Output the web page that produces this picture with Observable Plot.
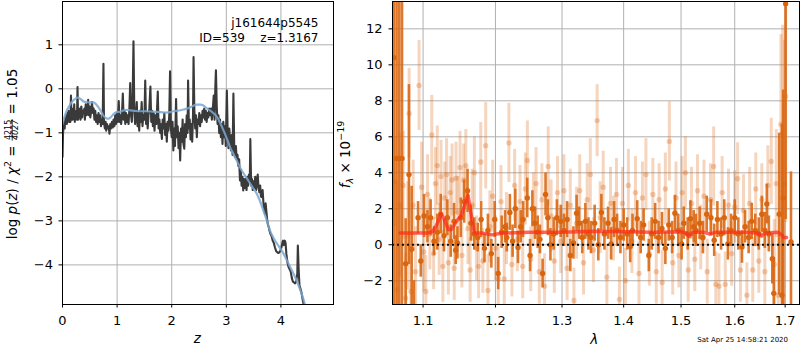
<!DOCTYPE html>
<html><head><meta charset="utf-8">
<script src="https://cdn.jsdelivr.net/npm/d3@7"></script>
<script src="https://cdn.jsdelivr.net/npm/@observablehq/plot@0.6"></script>
<style>
html,body{margin:0;padding:0;background:#fff;}
#wrap{position:relative;width:800px;height:350px;font-family:"DejaVu Sans",sans-serif;}
#wrap svg{position:absolute;top:0;overflow:visible;}
svg text{white-space:pre;}
</style></head><body><div id="wrap"></div>
<script>
// ---------- left panel: log p(z) ----------
const pzZ = [0.00,0.01,0.02,0.03,0.04,0.05,0.06,0.07,0.08,0.09,0.10,0.11,0.12,0.13,0.145,0.155,0.165,0.175,0.185,0.195,0.205,0.215,0.225,0.235,0.245,0.255,0.265,0.275,0.285,0.295,
0.31,0.32,0.33,0.345,0.36,0.37,0.385,0.40,0.41,0.425,0.44,0.455,0.47,0.48,0.495,0.51,0.525,0.54,0.555,0.57,0.585,0.60,0.615,0.63,0.645,0.66,0.675,0.69,0.705,0.72,0.735,0.75,0.76,
0.775,0.79,0.80,0.815,0.83,0.845,0.86,0.875,0.89,0.905,0.92,0.935,0.95,0.965,0.98,0.995,1.01,1.03,1.045,1.06,1.075,1.09,1.105,1.12,1.135,1.15,1.165,1.18,1.195,1.21,1.225,1.24,1.255,1.27,1.285,1.30,1.315,1.33,
1.345,1.36,1.375,1.39,1.405,1.42,1.435,1.45,1.465,1.48,1.50,1.515,1.53,1.545,1.56,1.575,1.59,1.61,1.625,1.64,1.655,1.67,1.685,1.70,1.72,1.745,1.76,1.775,1.79,1.80,1.82,1.835,1.85,1.865,1.88,1.895,1.91,1.925,1.94,1.955,1.97,1.985,
2.00,2.015,2.03,2.045,2.06,2.08,2.095,2.11,2.125,2.14,2.155,2.17,2.185,2.20,2.215,2.23,2.245,2.26,2.275,2.29,2.30,2.315,2.33,2.345,2.36,2.375,2.39,2.40,2.415,2.43,2.445,2.46,2.475,2.49,2.505,2.52,2.535,2.55,2.565,2.58,2.595,
2.61,2.625,2.64,2.655,2.67,2.685,2.70,2.72,2.735,2.75,2.77,2.785,2.80,2.81,2.825,2.84,2.855,2.87,2.885,2.90,2.915,2.93,2.945,2.96,2.975,2.99,3.01,3.025,3.04,3.055,3.07,3.085,3.10,3.115,3.13,3.145,3.16,3.175,3.19,
3.205,3.22,3.235,3.25,3.265,3.28,3.295,3.31,3.325,3.34,3.355,3.37,3.385,3.40,3.415,3.43,3.44,3.455,3.47,3.485,3.50,3.515,3.53,3.545,3.56,3.575,3.59,3.605,3.62,3.635,3.65,3.665,3.68,3.695,3.71,3.72,3.735,3.75,3.765,3.78,3.79,
3.81,3.83,3.85,3.87,3.89,3.91,3.93,3.95,3.97,3.99,4.01,4.03,4.04,4.055,4.07,4.085,4.10,4.12,4.14,4.16,4.18,4.20,4.22,4.24,4.26,4.28,4.30,4.31,4.325,4.34,4.36,4.38,4.40,4.42,4.44];
const pzLog = [-1.55,-1.0,-0.85,-0.75,-0.9,-0.65,-0.75,-0.6,-0.8,-0.55,-0.7,-0.5,-0.75,-0.6,-0.75,-0.15,-0.7,-0.5,-0.7,-0.45,-0.6,-0.35,-0.75,-0.55,-0.65,-0.5,-0.7,0.04,-0.7,-0.5,
-0.65,-0.45,-0.7,-0.4,-0.65,-0.5,-0.55,-0.45,-0.7,-0.35,-0.6,-0.45,-0.25,-0.6,-0.4,-0.65,-0.5,-0.3,-0.55,-0.45,-0.7,-0.5,-0.75,-0.6,-0.8,-0.55,-0.75,-0.6,-0.85,-0.7,-0.8,0.57,-0.75,
-0.9,-0.75,-0.95,-0.8,-0.9,-0.85,-1.02,-0.8,-0.9,-0.75,-0.88,-0.7,-0.85,-0.6,-0.8,-0.55,-0.75,-0.28,-0.75,-0.6,-0.8,-0.55,-0.11,-0.7,-0.5,-0.8,-0.55,-0.75,-0.6,-0.8,-0.45,0.13,-0.6,-0.75,-0.2,1.08,-0.5,-0.8,
-0.6,-0.3,-0.85,-0.55,-0.95,-0.5,-0.75,-0.3,-0.85,-0.6,-0.7,0.19,-0.8,-0.55,-0.9,-0.6,-0.45,0.05,-0.75,-0.5,-0.85,-0.55,-0.95,-0.6,-0.8,-0.06,-0.9,-0.7,-1.0,-0.8,-1.14,-0.7,-0.9,-0.55,-1.05,-0.8,-1.2,-0.75,-0.95,-0.6,0.40,-0.9,
-1.1,-0.75,-1.40,-0.9,-1.3,-0.23,-1.1,-0.85,-1.35,-1.0,-1.63,-0.9,-1.2,-0.7,-1.25,-1.36,-0.8,-1.1,-0.6,-1.0,0.19,-0.9,-0.7,-1.15,-0.8,-1.2,-0.6,0.72,-0.5,-0.9,-0.6,-1.1,-0.7,-0.8,-0.55,-0.85,-0.6,-0.75,-0.5,-0.65,-0.45,
-0.7,-0.5,-0.75,-0.55,-0.65,-0.45,-0.6,-0.45,-0.7,-0.5,-0.15,-0.7,0.10,0.42,-0.4,-0.8,-0.6,-1.0,-0.7,-1.1,-0.8,-1.25,-0.75,-1.1,-0.85,-1.3,-0.04,-1.0,-1.35,-0.9,-1.2,-1.4,-1.05,-1.5,-0.11,-1.3,-1.55,-1.3,-1.6,
-1.5,-1.75,-1.6,-2.08,-1.85,-2.2,-2.0,-2.31,-2.05,-2.25,-2.05,-2.3,-2.0,-2.2,-1.95,-2.1,-1.14,-2.2,-2.05,-2.3,-2.1,-2.25,-2.0,-2.3,-2.1,-1.95,-2.25,-2.35,-2.2,-2.45,-2.46,-2.3,-2.6,-2.75,-2.84,-2.6,-2.8,-3.0,-3.1,-3.15,-3.22,
-3.3,-3.35,-3.45,-3.5,-3.6,-3.68,-3.71,-3.73,-3.72,-3.68,-3.6,-3.48,-3.45,-3.55,-3.45,-3.5,-3.75,-3.95,-4.05,-4.1,-4.15,-4.3,-4.38,-4.4,-4.42,-4.38,-4.2,-3.56,-4.1,-4.47,-4.55,-4.65,-4.8,-4.92,-5.1];
const smoothZ = [0,0.04,0.08,0.12,0.17,0.22,0.275,0.33,0.39,0.45,0.51,0.57,0.62,0.66,0.70,0.75,0.80,0.84,0.88,0.93,0.99,1.06,1.12,1.18,1.25,1.32,1.40,1.48,1.55,1.65,1.79,1.90,1.97,2.03,2.09,2.18,2.28,2.37,2.46,2.52,2.58,2.64,2.70,2.77,2.83,2.89,2.95,3.01,3.07,3.13,3.19,3.25,3.32,3.38,3.44,3.50,3.56,3.62,3.68,3.74,3.80,3.87,3.93,3.99,4.05,4.11,4.17,4.23,4.29,4.34,4.38,4.44,4.50];
const smoothLog = [-0.80,-0.62,-0.49,-0.40,-0.30,-0.24,-0.20,-0.23,-0.29,-0.30,-0.31,-0.31,-0.36,-0.42,-0.50,-0.61,-0.67,-0.68,-0.65,-0.58,-0.53,-0.52,-0.49,-0.48,-0.49,-0.50,-0.51,-0.51,-0.51,-0.52,-0.53,-0.54,-0.53,-0.51,-0.50,-0.48,-0.45,-0.40,-0.36,-0.36,-0.38,-0.44,-0.49,-0.56,-0.64,-0.78,-0.95,-1.13,-1.33,-1.48,-1.63,-1.78,-1.93,-2.04,-2.16,-2.27,-2.39,-2.56,-2.77,-2.98,-3.22,-3.40,-3.52,-3.63,-3.75,-3.90,-4.05,-4.20,-4.36,-4.52,-4.66,-4.90,-5.20];
const zTicks = [0,1,2,3,4];
const pzTicks = [-4,-3,-2,-1,0,1];
const annotLine1 = "j161644p5545";
const annotLine2 = "ID=539    z=1.3167";

// ---------- right panel: spectrum ----------
const darkLam = [1.0620,1.0655,1.0690,1.0725,1.0772,1.0815,1.0850,1.0880,1.0934,1.0970,
1.1013,1.1058,1.1100,1.1146,1.1190,1.1236,1.1280,1.1326,1.1372,1.1417,1.1440,1.1464,1.1510,1.1557,1.1604,1.1651,1.1699,1.1747,1.1795,1.1843,1.1892,1.1941,1.1990,1.2040,1.2090,
1.2140,1.2165,1.2210,1.2250,1.2290,1.2330,1.2370,1.2405,1.2468,1.2510,1.2545,1.2585,1.2625,1.2660,1.2700,1.2745,1.2780,1.2820,1.2870,1.2920,1.2980,1.3030,1.3080,1.3130,1.3180,1.3230,1.3270,1.3320,1.3370,1.3420,1.3460,1.3520,1.3580,
1.3630,1.3680,1.3740,1.3790,1.3840,1.3890,1.3946,1.4000,1.4060,1.4110,1.4150,1.4230,1.4290,1.4340,1.4430,1.4480,1.4540,1.4600,1.4660,1.4720,1.4780,1.4840,1.4890,1.4950,1.5010,1.5050,1.5120,1.5170,1.5230,
1.5270,1.5340,1.5400,1.5470,1.5550,1.5610,1.5670,1.5740,1.5800,1.5870,1.5930,1.6000,1.6070,1.6140,1.6200,1.6270,1.6330,1.6400,1.6470,1.6530,1.6590,1.6630,1.6670,1.6740,1.6770,1.6880,1.6935,1.6960,1.7010,1.7120];
const darkFlux = [10.4,4.8,4.8,4.8,-1.05,3.9,-0.25,-3.8,1.5,-0.9,
1.6,1.0,1.5,0.2,0.7,1.7,0.5,1.5,0.2,1.3,-0.3,0.1,1.5,2.4,3.0,1.2,0.6,0.4,1.4,-0.2,0.8,-0.5,1.4,-1.6,0.7,
1.0,0.4,1.8,0.2,2.0,-0.15,1.0,1.4,2.6,-0.6,2.0,1.2,0.7,0.3,-1.6,2.8,1.5,0.0,0.6,1.5,1.3,0.8,1.4,-0.6,0.1,1.75,1.2,0.4,1.3,0.6,0.4,1.2,0.0,
1.8,0.6,1.2,0.05,1.4,0.8,0.4,1.1,0.6,-0.1,0.8,1.45,0.4,1.1,-0.6,0.6,1.3,0.4,0.9,-0.2,1.1,0.4,1.75,0.8,0.05,1.2,0.6,1.45,1.0,
0.8,1.2,0.4,1.7,1.5,0.25,1.4,0.6,1.5,0.05,0.8,1.5,0.6,-0.13,1.0,0.4,1.3,0.8,0.6,1.7,0.8,2.27,0.6,-0.78,-2.7,1.7,-2.8,2.6,13.4,0.15];
const darkErr = [15,15,14,9,2.5,5.0,3.5,1.8,0.9,0.9,
1.2,0.9,1.0,0.8,1.0,1.1,0.9,1.0,0.9,1.0,0.8,0.9,1.1,1.2,1.2,1.0,0.9,0.8,1.0,0.8,0.9,0.8,1.0,0.9,0.9,
0.9,0.8,1.0,0.9,1.1,0.9,0.9,1.0,1.1,0.9,1.0,0.9,0.9,0.8,0.8,1.2,1.0,0.9,0.9,1.0,0.9,0.9,1.0,0.9,0.9,1.0,0.9,0.9,1.0,0.9,0.9,1.0,0.9,
1.0,0.9,0.9,0.9,1.0,0.9,0.9,0.9,0.9,0.9,0.9,1.0,0.9,0.9,0.9,0.9,1.0,0.9,0.9,0.9,0.9,0.9,1.0,0.9,0.9,0.9,0.9,1.0,0.9,
0.9,0.9,0.9,1.0,1.0,0.9,1.0,0.9,1.0,0.9,0.9,1.0,0.9,0.9,0.9,0.9,1.0,0.9,0.9,1.0,1.0,1.1,1.0,1.4,2.0,4.5,9.5,6.0,12,3.9];

const lightLam = [1.0630,1.0660,1.0700,1.0740,1.0772,1.0800,1.0817,1.0840,1.0870,1.0900,1.0947,1.0980,1.1010,1.1036,1.1060,1.1090,1.1116,1.1140,1.1165,1.1190,1.1215,1.1240,1.1265,1.1290,1.1315,1.1340,1.1365,1.1390,1.1420,1.1445,1.1470,1.1500,1.1525,1.1550,1.1580,1.1610,1.1640,1.1670,1.1700,1.1730,1.1760,1.1790,1.1820,1.1860,1.1892,1.1920,1.1960,1.2000,1.2040,1.2080,
1.2128,1.2160,1.2196,1.2240,1.2280,1.2320,1.2360,1.2400,1.2440,1.2470,1.2520,1.2560,1.2600,1.2650,1.2690,1.2730,1.2786,1.2830,1.2880,1.2930,1.2980,1.3030,1.3080,1.3130,1.3188,1.3230,1.3280,1.3340,1.3400,1.3450,1.3500,1.3561,1.3610,1.3660,1.3720,1.3780,1.3830,1.3880,1.3929,1.3980,
1.4030,1.4080,1.4140,1.4200,1.4260,1.4320,1.4380,1.4440,1.4500,1.4560,1.4610,1.4663,1.4720,1.4791,1.4850,1.4910,1.4960,1.5020,1.5079,1.5130,1.5190,1.5250,1.5300,1.5360,1.5420,1.5480,1.5540,1.5600,1.5640,1.5700,1.5760,1.5820,1.5880,1.5940,1.6000,1.6056,1.6110,1.6170,1.6236,1.6290,
1.6350,1.6410,1.6470,1.6530,1.6590,1.6650,1.6719,1.6780,1.6820,1.6860,1.6914,1.6950,1.6985,1.7010];
const lightFlux = [3.5,-2.5,2.2,3.3,-2.97,0.5,7.3,-2.6,2.2,-1.5,8.85,3.2,-0.4,-2.6,2.8,0.6,6.1,-0.5,3.4,4.4,0.3,3.8,-1.2,2.6,3.9,-1.0,2.9,3.6,-1.3,3.7,1.8,4.3,-0.6,3.6,4.4,0.9,-1.4,2.2,4.0,-0.2,-1.2,4.6,-0.9,5.5,-2.54,1.0,2.7,-0.2,-1.9,2.4,
-1.9,0.9,5.66,-1.1,3.3,0.3,2.4,-1.2,3.1,4.68,-0.8,2.0,3.4,-1.5,2.5,-2.3,4.35,1.6,-0.9,2.9,0.2,3.0,-1.3,2.2,-3.1,1.2,3.0,-1.0,2.5,3.9,-0.3,6.9,1.5,3.2,-1.8,2.3,0.9,2.8,-3.04,2.3,
-2.0,3.3,0.2,2.9,-1.6,2.6,3.9,-0.5,2.8,-1.5,2.5,-2.1,3.1,5.74,-1.0,2.6,-0.6,2.9,4.0,-1.4,2.3,-0.8,3.0,0.4,2.7,-1.5,2.5,4.35,-2.2,-2.3,2.9,-2.2,2.2,-0.5,2.1,3.67,-1.4,1.9,-2.8,2.3,
-1.4,3.1,-0.9,2.5,-1.5,3.3,4.63,-1.1,3.4,-2.8,6.68,6.2,3.36,8.24];
const lightErr = [2.5,6,4,3,2.5,3,2.5,2.5,2.5,2.5,2.5,2.5,2.2,2.0,2.2,2.0,2.2,2.0,2.0,2.2,2.0,2.0,2.0,2.0,2.0,1.8,2.0,2.0,1.8,2.0,2.0,2.0,1.8,2.0,2.0,2.0,1.8,2.0,2.0,1.8,1.8,2.2,1.8,2.4,2.0,2.0,2.0,1.8,1.8,2.0,
1.8,2.0,2.2,1.8,2.0,1.8,2.0,1.8,2.0,2.2,1.8,2.0,2.0,1.8,2.0,1.8,2.2,2.0,1.8,2.0,1.8,2.0,1.8,2.0,1.8,2.0,2.0,1.8,2.0,2.0,1.8,2.0,2.0,2.0,1.8,2.0,1.8,2.0,1.8,2.0,
1.8,2.0,1.8,2.0,1.8,2.0,2.0,1.8,2.0,1.8,2.0,1.8,2.0,2.2,1.8,2.0,1.8,2.0,2.0,1.8,2.0,1.8,2.0,1.8,2.0,1.8,2.0,2.2,1.8,1.8,2.0,1.8,2.0,1.8,2.0,2.0,1.8,2.0,1.8,2.0,
1.8,2.0,1.8,2.0,2.0,2.2,2.4,2.5,3.0,3.5,5.0,6.0,8.0,7.0];

const modelLam = [1.070,1.105,1.113,1.118,1.124,1.128,1.134,1.138,1.145,1.152,1.158,1.161,1.165,1.170,1.180,1.195,1.210,1.250,1.300,1.350,1.400,1.450,1.500,1.510,1.515,1.522,1.540,1.553,1.565,1.620,1.645,1.652,1.660,1.685,1.693,1.697,1.703];
const modelFlux = [0.65,0.65,0.75,1.1,1.7,1.45,0.85,0.85,1.3,1.65,2.4,2.75,1.8,0.65,0.65,0.55,0.65,0.7,0.7,0.75,0.72,0.7,0.72,0.65,0.45,0.7,0.7,0.6,0.7,0.7,0.65,0.48,0.65,0.7,0.55,0.4,0.4];

const lamTicks = [1.1,1.2,1.3,1.4,1.5,1.6,1.7];
const fluxTicks = [-2,0,2,4,6,8,10,12];
const stampText = "Sat Apr 25 14:58:21 2020";

// ---------- build tables ----------
const pz = pzZ.map((z,i)=>({z, v: pzLog[i]}));
const sm = smoothZ.map((z,i)=>({z, v: smoothLog[i]}));
const dark = darkLam.map((l,i)=>({l, f: darkFlux[i], e: darkErr[i]}));
const light = lightLam.map((l,i)=>({l, f: lightFlux[i], e: lightErr[i]}));
const model = modelLam.map((l,i)=>({l, f: modelFlux[i]}));

const GRID = {stroke:"#b0b0b0", strokeOpacity:1, strokeWidth:1};
const C = "#d9650f";
const intFmt = d => (d < 0 ? "\u2212" : "") + Math.abs(d);
const baseStyle = {fontFamily:"DejaVu Sans", fontSize:"13px", background:"transparent", color:"black", overflow:"visible"};

const left = Plot.plot({
  width:340, height:350, marginLeft:62, marginRight:7, marginTop:1, marginBottom:46,
  style: baseStyle,
  x:{domain:[0,4.963], label:null},
  y:{domain:[-4.90,1.984], label:null},
  marks:[
    Plot.gridX(zTicks, GRID),
    Plot.gridY(pzTicks, GRID),
    Plot.line(pz, {x:"z", y:"v", stroke:"#3a3a3a", strokeWidth:2.1, clip:true}),
    Plot.line(sm, {x:"z", y:"v", stroke:"#7aa7d0", strokeWidth:2.2, strokeOpacity:0.85, curve:"monotone-x", clip:true}),
    Plot.text([annotLine1 + "\n" + annotLine2], {frameAnchor:"top-right", lineAnchor:"top", textAnchor:"end", dx:-15, dy:14, fontSize:12, lineHeight:1.29, fill:"black"}),
    Plot.frame({stroke:"black", strokeWidth:1}),
    Plot.axisX({ticks:zTicks, tickSize:3.5, tickPadding:7.5, label:null, tickFormat:intFmt}),
    Plot.axisY({ticks:pzTicks, tickSize:3.5, tickPadding:6, label:null, tickFormat:intFmt})
  ]
});
left.style.left = "0px";

const right = Plot.plot({
  width:460, height:350, marginLeft:52, marginRight:1, marginTop:1, marginBottom:46,
  style: baseStyle,
  x:{type:"log", domain:[1.0603,1.7296], label:null},
  y:{domain:[-3.32,13.52], label:null},
  marks:[
    Plot.gridX(lamTicks, GRID),
    Plot.gridY(fluxTicks, GRID),
    Plot.ruleX(light, {x:"l", y1:d=>d.f-d.e, y2:d=>d.f+d.e, stroke:C, strokeOpacity:0.27, strokeWidth:3, clip:true}),
    Plot.dot(light, {x:"l", y:"f", r:2.7, fill:C, fillOpacity:0.3, clip:true}),
    Plot.ruleX(dark, {x:"l", y1:d=>d.f-d.e, y2:d=>d.f+d.e, stroke:C, strokeOpacity:0.88, strokeWidth:2.6, clip:true}),
    Plot.dot(dark, {x:"l", y:"f", r:2.7, fill:C, clip:true}),
    Plot.line(model, {x:"l", y:"f", stroke:"#ff2a1a", strokeOpacity:0.72, strokeWidth:3.5, clip:true}),
    Plot.ruleY([0], {stroke:"#111", strokeWidth:1.8, strokeDasharray:"2,3"}),
    Plot.frame({stroke:"black", strokeWidth:1}),
    Plot.axisX({ticks:lamTicks, tickSize:3.5, tickPadding:7.5, label:null, tickFormat:d=>d.toFixed(1)}),
    Plot.axisY({ticks:fluxTicks, tickSize:3.5, tickPadding:6.5, label:null, tickFormat:intFmt})
  ]
});
right.style.left = "340px";

const wrap = document.getElementById("wrap");
wrap.appendChild(left);
wrap.appendChild(right);

// ---------- overlay labels ----------
const NS = "http://www.w3.org/2000/svg";
const ov = document.createElementNS(NS, "svg");
ov.setAttribute("width", 800); ov.setAttribute("height", 350);
ov.style.left = "0px"; ov.style.pointerEvents = "none";
ov.setAttribute("font-family", "DejaVu Sans");
wrap.appendChild(ov);

function el(tag, attrs, parent, txt) {
  const e = document.createElementNS(NS, tag);
  for (const k in attrs) e.setAttribute(k, attrs[k]);
  if (txt != null) e.textContent = txt;
  parent.appendChild(e);
  return e;
}
function spans(textEl, parts) {
  for (const p of parts) el("tspan", p.a || {}, textEl, p.t);
}

// x labels
el("text", {x:197.3, y:343, "text-anchor":"middle", "font-size":13.5, "font-style":"italic"}, ov, "z");
el("text", {x:594.3, y:344, "text-anchor":"middle", "font-size":13.5, "font-style":"italic"}, ov, "λ");
// timestamp
el("text", {x:788, y:342.3, "text-anchor":"end", "font-size":7}, ov, stampText);

// left y label with fraction
const gL = el("g", {transform:"translate(16.5,154) rotate(-90)"}, ov);
const t1 = el("text", {x:0, y:0, "font-size":13.5}, gL);
spans(t1, [
  {t:"log "}, {t:"p", a:{"font-style":"italic"}}, {t:"("}, {t:"z", a:{"font-style":"italic"}},
  {t:") / "}, {t:"χ", a:{"font-style":"italic"}}, {t:"2", a:{"font-size":9.5, dy:-5.5}}, {t:" = ", a:{dy:5.5}}
]);
const numT = el("text", {x:0, y:-5.8, "font-size":8, "text-anchor":"middle"}, gL, "4215");
const denT = el("text", {x:0, y:1.8, "font-size":8, "text-anchor":"middle", "font-style":"italic"}, gL, "4027");
const t3 = el("text", {x:0, y:0, "font-size":13.5}, gL, " = 1.05");
const L1 = t1.getComputedTextLength();
const fw = Math.max(numT.getComputedTextLength(), denT.getComputedTextLength()) + 2;
const L3 = t3.getComputedTextLength();
const x0 = -(L1 + fw + L3) / 2;
t1.setAttribute("x", x0);
numT.setAttribute("x", x0 + L1 + fw/2);
denT.setAttribute("x", x0 + L1 + fw/2);
el("line", {x1:x0+L1+0.5, x2:x0+L1+fw-0.5, y1:-4.3, y2:-4.3, stroke:"black", "stroke-width":0.8}, gL);
t3.setAttribute("x", x0 + L1 + fw);

// right y label
const gR = el("g", {transform:"translate(349.5,154.5) rotate(-90)"}, ov);
const tr = el("text", {x:0, y:0, "font-size":13.5, "text-anchor":"middle"}, gR);
spans(tr, [
  {t:"f", a:{"font-style":"italic"}}, {t:"λ", a:{"font-size":9.5, dy:3, "font-style":"italic"}},
  {t:" × 10", a:{dy:-3}}, {t:"−19", a:{"font-size":9.5, dy:-5.5}}
]);
</script>
</body></html>
